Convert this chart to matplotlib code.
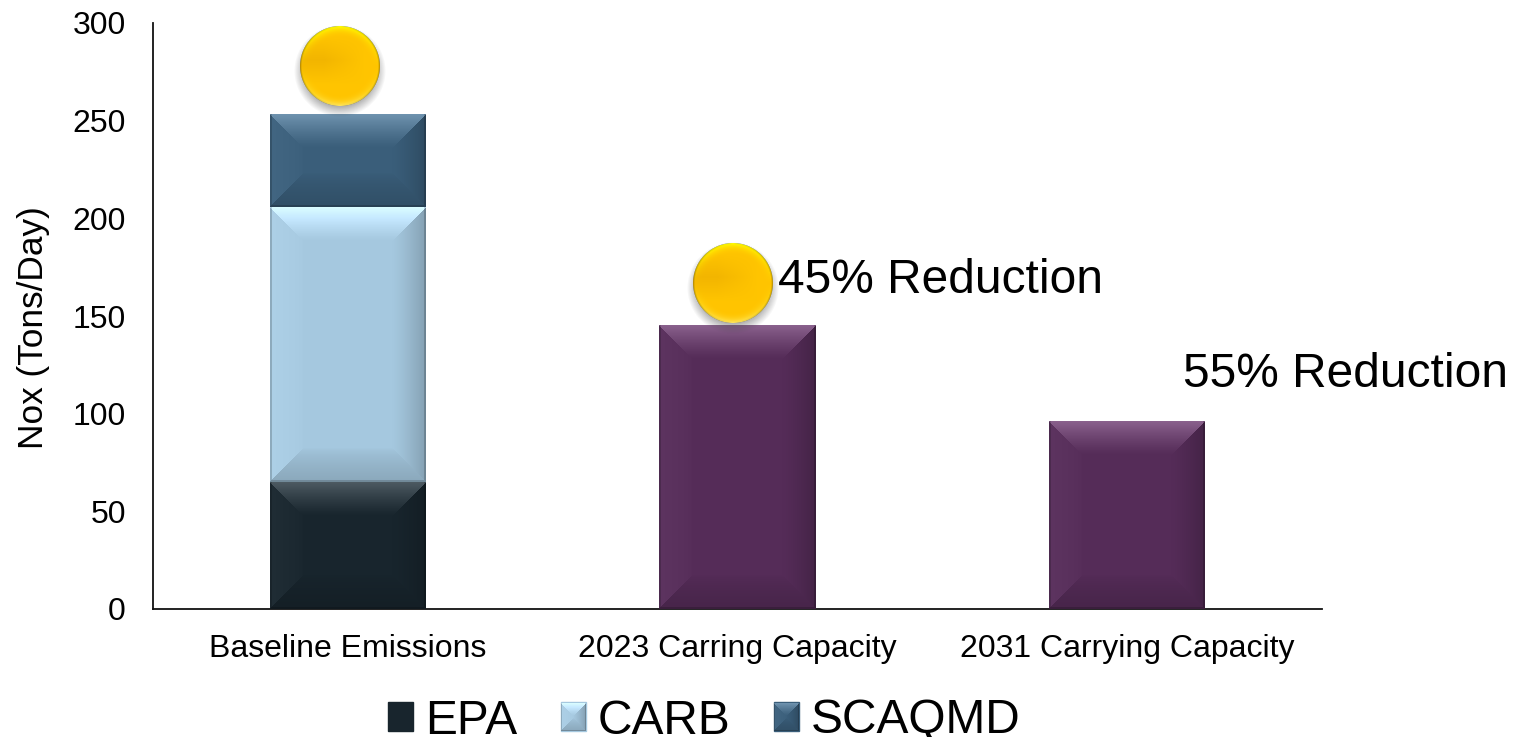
import numpy as np
import matplotlib
matplotlib.use('Agg')
import matplotlib.pyplot as plt
from matplotlib.patches import Patch

plt.rcParams['font.family'] = ['Liberation Sans', 'DejaVu Sans']

categories = ['Baseline Emissions', '2023 Carring Capacity', '2031 Carrying Capacity']
epa_values = [65, 0, 0]
carb_values = [141, 0, 0]
scaqmd_values = [47.5, 0, 0]
target_values = [0, 145.4, 96]
y_ticks = [0, 50, 100, 150, 200, 250, 300]
medal_x = [-0.02, 0.99]
medal_y = [278, 167]
notes = ['45% Reduction', '55% Reduction']
note_x = [1.105, 2.144]
note_y = [161.8, 113.7]

colors = {'EPA': '#18252d', 'CARB': '#a5c8df', 'SCAQMD': '#3a5e7a', 'target': '#552c58'}


def bevel_image(w, h, base, depth=34):
    # Abgeschraegter Balken: jedes Pixel gehoert zur naechsten Kante
    base = np.array(matplotlib.colors.to_rgb(base))
    yy, xx = np.mgrid[0:h, 0:w]
    dl, dr, dt, db = xx + 0.5, w - xx - 0.5, yy + 0.5, h - yy - 0.5
    nearest = np.argmin(np.stack([dt, db, dl, dr]), axis=0)
    dist = np.minimum(np.minimum(dl, dr), np.minimum(dt, db))
    fade = np.clip(1 - dist / depth, 0, 1)[..., None]
    img = np.repeat(base[None, None, :], h, axis=0).repeat(w, axis=1)
    inband = dist < depth
    side = nearest[..., None]
    top = (side == 0) & inband[..., None]
    bottom = (side == 1) & inband[..., None]
    left = (side == 2) & inband[..., None]
    right = (side == 3) & inband[..., None]
    img = np.where(top, img + 0.21 * fade ** 1.2, img)
    img = np.where(bottom, img * (1 - 0.16 * fade ** 0.7), img)
    img = np.where(left, img + 0.03 * fade ** 0.5, img)
    img = np.where(right, img * (1 - 0.2 * fade ** 1.3), img)
    # duenner dunkler Rand an den Seiten und unten
    scale = max(1.0, depth / 34 * 2.5)
    edge = (np.minimum(np.minimum(dl, dr), db) < scale)[..., None]
    img = np.where(edge, img * 0.82, img)
    return np.clip(img, 0, 1)


def medal_image(radius):
    # Goldene Kugel mit weichem Schatten darunter
    pad = 14
    size = 2 * (radius + pad)
    yy, xx = np.mgrid[0:size, 0:size] + 0.5
    dx, dy = xx - size / 2, yy - size / 2
    r = np.hypot(dx, dy)
    img = np.zeros((size, size, 4))
    img[..., :3] = 0.3
    img[..., 3] = np.clip((radius + 6 - np.hypot(dx, dy - 5)) / 12, 0, 1) * 0.5
    gold = np.zeros((size, size, 3))
    # oben gelblich, in der Mitte etwas dunkler, unten wieder heller
    band = np.clip(1 - np.abs(dy + radius * 0.15) / (radius * 0.6), 0, 1)
    gold[..., 0] = 1.0 - 0.05 * band * np.clip(0.6 - dx / radius, 0, 1)
    gold[..., 1] = 0.77 - 0.06 * band * np.clip(0.6 - dx / radius, 0, 1)
    edge = np.clip((r - radius * 0.72) / (radius * 0.28), 0, 1) ** 2
    up = np.clip(-dy / radius, 0, 1)
    down = np.clip(dy / radius, 0, 1)
    gold[..., 1] += edge * up * 0.24 + edge * down * 0.14
    gold[..., 2] += edge * down ** 2 * 0.4
    rim = np.clip((r - radius + 2) / 2, 0, 1) * np.abs(dx) / radius
    gold = gold * (1 - 0.3 * rim[..., None])
    inside = np.clip(radius - r + 0.5, 0, 1)
    img[..., :3] = img[..., :3] * (1 - inside[..., None]) + gold * inside[..., None]
    img[..., 3] = img[..., 3] * (1 - inside) + inside
    return np.clip(img, 0, 1)


fig = plt.figure(figsize=(15.25, 7.37), dpi=100)
ax = fig.add_axes([153 / 1525, (737 - 609) / 737, 1169 / 1525, 586 / 737])
x = np.arange(len(categories))

epa = ax.bar(x, epa_values, width=0.402, color=colors['EPA'], label='EPA')
carb = ax.bar(x, carb_values, width=0.402, bottom=epa_values, color=colors['CARB'], label='CARB')
stack = np.add(epa_values, carb_values)
scaqmd = ax.bar(x, scaqmd_values, width=0.402, bottom=stack, color=colors['SCAQMD'], label='SCAQMD')
target = ax.bar(x, target_values, width=0.402, color=colors['target'])

ax.set_xlim(-0.5, 2.5)
ax.set_ylim(0, 300)
ax.set_xticks(x, categories)
ax.set_yticks(y_ticks)
ax.tick_params(axis='x', length=0, labelsize=23, pad=18)
ax.tick_params(axis='y', length=0, labelsize=23, pad=19.5)
ax.set_ylabel('Nox (Tons/Day)', fontsize=25.4)
ax.yaxis.set_label_coords(-103 / 1169, 0.48)
for name in ['top', 'right']:
    ax.spines[name].set_visible(False)
for name in ['left', 'bottom']:
    ax.spines[name].set_linewidth(1.3)
    ax.spines[name].set_color('#111111')

for text, tx, ty in zip(notes, note_x, note_y):
    ax.text(tx, ty, text, fontsize=34.5, va='baseline', ha='left')

handles = [Patch(color=colors['EPA']), Patch(color=colors['CARB']), Patch(color=colors['SCAQMD'])]
leg = fig.legend(handles, ['EPA', 'CARB', 'SCAQMD'], ncol=3, loc='center',
                 bbox_to_anchor=(704.5 / 1525, (737 - 721) / 737), frameon=False, fontsize=34.5,
                 handlelength=0.53, handleheight=0.53, handletextpad=0.25, columnspacing=0.9,
                 borderpad=0, borderaxespad=0)
medals = ax.scatter(medal_x, medal_y, s=0, color='#ffc000')

fig.canvas.draw()

# Balken mit Abschraegung uebermalen
for group, color in [(epa, 'EPA'), (carb, 'CARB'), (scaqmd, 'SCAQMD'), (target, 'target')]:
    for bar in group:
        if bar.get_height() == 0:
            continue
        box = bar.get_window_extent()
        x0, y0 = int(round(box.x0)), int(round(box.y0))
        w, h = int(round(box.x1)) - x0, int(round(box.y1)) - y0
        fig.figimage(bevel_image(w, h, colors[color]), xo=x0, yo=y0, origin='upper', zorder=2)

# Legendensymbole, EPA bleibt flach
for handle, color in zip(leg.legend_handles[1:], ['CARB', 'SCAQMD']):
    box = handle.get_window_extent()
    x0, y0 = int(round(box.x0)), int(round(box.y0))
    w, h = int(round(box.width)), int(round(box.height))
    fig.figimage(bevel_image(w, h, colors[color], depth=13), xo=x0, yo=y0, origin='upper', zorder=6)

medal = medal_image(40)
for point in ax.transData.transform(np.column_stack([medal_x, medal_y])):
    fig.figimage(medal, xo=int(point[0] - medal.shape[1] / 2), yo=int(point[1] - medal.shape[0] / 2),
                 origin='upper', zorder=3)

fig.savefig('out.png', dpi=100)
